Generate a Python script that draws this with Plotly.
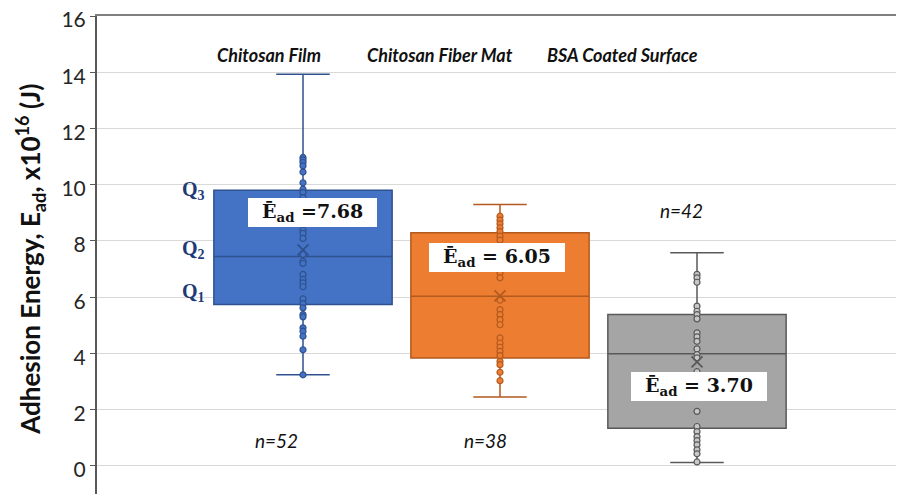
import plotly.graph_objects as go

categories = ["Chitosan Film", "Chitosan Fiber Mat", "BSA Coated Surface"]
n_labels = ["n=52", "n=38", "n=42"]

q1 = [5.74, 3.84, 1.34]
median = [7.45, 6.03, 3.99]
q3 = [9.80, 8.29, 5.38]
lower_fence = [3.24, 2.45, 0.12]
upper_fence = [13.93, 9.30, 7.58]
means = [7.68, 6.05, 3.70]
mean_labels = [" =7.68", " = 6.05", " = 3.70"]

film_points = [10.97, 10.88, 10.79, 10.67, 10.45, 10.07, 9.84, 9.72, 9.54, 8.39, 8.27,
               8.09, 7.52, 7.28, 7.20, 6.81, 6.63, 6.51, 6.37, 5.94, 5.77, 5.62, 5.38,
               5.30, 4.91, 4.79, 4.61, 4.13, 3.24]
fiber_points = [8.88, 8.74, 8.61, 8.47, 8.33, 8.17, 8.03, 6.87, 6.69, 5.89, 5.56, 5.38,
                5.20, 5.02, 4.55, 4.37, 4.22, 4.07, 3.92, 3.72, 3.60, 3.33, 3.03]
bsa_points = [6.81, 6.69, 6.53, 5.68, 5.50, 5.38, 5.23, 4.73, 4.59, 4.43, 4.16, 3.96,
              3.84, 3.35, 2.82, 2.46, 1.94, 1.40, 1.22, 1.04, 0.90, 0.75, 0.57, 0.43, 0.14]
points = [film_points, fiber_points, bsa_points]

y_ticks = [0, 2, 4, 6, 8, 10, 12, 14, 16]

fills = ["#4472C4", "#ED7D31", "#A5A5A5"]
edges = ["#2F528F", "#B35A1F", "#595959"]
pt_fill = ["#4472C4", "#ED7D31", "#C8C8C8"]

fig = go.Figure()
for i, cat in enumerate(categories):
    fig.add_trace(go.Box(
        x=[cat], q1=[q1[i]], median=[median[i]], q3=[q3[i]],
        lowerfence=[lower_fence[i]], upperfence=[upper_fence[i]],
        fillcolor=fills[i], line=dict(color=edges[i], width=1.5),
        width=0.905, whiskerwidth=0.3, boxpoints=False, showlegend=False,
        hoverinfo="skip"))
    fig.add_trace(go.Scatter(
        x=[cat] * len(points[i]), y=points[i], mode="markers",
        marker=dict(size=6, color=pt_fill[i], line=dict(color=edges[i], width=1.2)),
        showlegend=False))
    fig.add_trace(go.Scatter(
        x=[cat], y=[means[i]], mode="markers",
        marker=dict(symbol="x-thin-open", size=11, color=edges[i],
                    line=dict(color=edges[i], width=1.8)),
        showlegend=False))

annots = []
# category titles at top
cat_x = [-0.173, 0.695, 1.624]
for cx, cat in zip(cat_x, categories):
    annots.append(dict(x=cx, y=14.61, xref="x", yref="y", text="<b><i>" + cat + "</i></b>",
                       showarrow=False, font=dict(family="Lato", size=18, color="#111111")))
# n labels
n_pos = [(-0.137, 0.92), (0.924, 0.92), (1.919, 9.1)]
for (nx, ny), t in zip(n_pos, n_labels):
    annots.append(dict(x=nx, y=ny, xref="x", yref="y", text="<i>" + t + "</i>",
                       showarrow=False, font=dict(family="Lato", size=19, color="#111111")))
# mean labels
m_pos = [(0.046, 9.0), (0.985, 7.40), (2.01, 2.84)]
for (mx, my), t in zip(m_pos, mean_labels):
    annots.append(dict(x=mx, y=my, xref="x", yref="y",
                       text="&nbsp;&nbsp;<b>Ē<sub>ad</sub>" + t + "</b>&nbsp;&nbsp;",
                       showarrow=False, bgcolor="white", borderpad=2, borderwidth=0,
                       font=dict(family="DejaVu Serif", size=19, color="#111111")))
# quartile labels
for qy, qt in [(9.81, "3"), (7.68, "2"), (6.15, "1")]:
    annots.append(dict(x=-0.487, y=qy, xref="x", yref="y", xanchor="right",
                       text="<b>Q<sub>" + qt + "</sub></b>", showarrow=False,
                       font=dict(family="Liberation Serif", size=20, color="#1F3A78")))
# y title
annots.append(dict(x=-0.083, y=0.49, xref="paper", yref="paper", textangle=-90,
                   xanchor="center", yanchor="middle",
                   text="<b>Adhesion Energy, E<sub>ad</sub>, x10<sup>16</sup> (J)</b>",
                   showarrow=False, font=dict(family="Lato", size=26, color="#111111")))

fig.update_layout(
    width=904, height=494,
    margin=dict(l=89, r=8, t=8, b=8),
    paper_bgcolor="white", plot_bgcolor="white",
    boxmode="overlay",
    annotations=annots,
    xaxis=dict(type="category", categoryorder="array", categoryarray=categories,
               range=[-1.0457, 3.0508], showticklabels=False, showgrid=False,
               zeroline=False, showline=True, side="top", linecolor="#7F7F7F",
               linewidth=2, ticks="", automargin=False),
    yaxis=dict(range=[-1, 16], tickvals=y_ticks, showgrid=True, gridcolor="#D9D9D9",
               gridwidth=1, zeroline=False, showline=True, linecolor="#595959",
               linewidth=2, ticks="outside", ticklen=5, tickcolor="#595959",
               automargin=False, ticklabeloverflow="allow", ticklabelshift=4,
               tickfont=dict(family="Lato", size=21, color="#262626")),
)

fig.write_html("out.html")
